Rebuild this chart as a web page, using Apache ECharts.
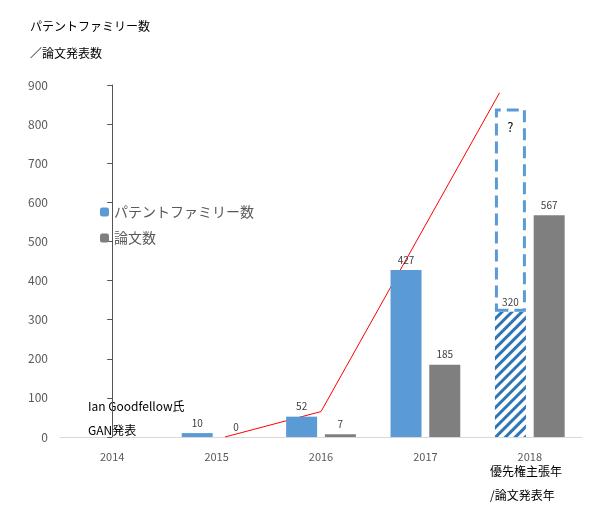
<!DOCTYPE html><html><head><meta charset="utf-8">
<script src="https://cdn.jsdelivr.net/npm/echarts@6/dist/echarts.min.js"></script>
<style>body{margin:0}#c{width:605px;height:529px}</style></head><body><div id="c"></div>
<script>
const categories=['2014','2015','2016','2017','2018'];
const patents=[null,10,52,427,320];
const papers=[null,0,7,185,567];
const patentUnknownTop=840;
const arrowPoints=[[1.08,0],[2.0,65],[3.71,880]];
const yTicks=[0,900,100];
const F='"Noto Sans CJK JP","Noto Sans",sans-serif';
const chart=echarts.init(document.getElementById('c'));
const blue='#5b9bd5',gray='#7f7f7f';
chart.setOption({
 animation:false,
 textStyle:{fontFamily:F},
 grid:{left:60,right:23,top:85,bottom:92},
 legend:{left:95,top:200,orient:'vertical',itemWidth:9,itemHeight:9,itemGap:12,
  textStyle:{fontSize:14,color:'#595959',fontFamily:F},data:['パテントファミリー数','論文数']},
 xAxis:[{type:'category',data:categories,axisTick:{show:false},axisLine:{lineStyle:{color:'#d9d9d9'}},
   axisLabel:{color:'#595959',fontSize:11,margin:14}},
  {type:'value',min:-0.5,max:4.5,show:false}],
 yAxis:{type:'value',min:yTicks[0],max:yTicks[1],interval:yTicks[2],splitLine:{show:false},
  axisLabel:{color:'#595959',fontSize:12,margin:12}},
 graphic:[
  {type:'text',left:30,top:20,style:{text:'パテントファミリー数',font:'12px '+F,fill:'#000'}},
  {type:'text',left:30,top:47,style:{text:'／論文発表数',font:'12px '+F,fill:'#000'}},
  {type:'text',left:490,top:465,style:{text:'優先権主張年',font:'12px '+F,fill:'#000'}},
  {type:'text',left:490,top:489,style:{text:'/論文発表年',font:'12px '+F,fill:'#000'}},
  {type:'text',left:88,top:400,style:{text:'Ian Goodfellow氏',font:'12px '+F,fill:'#000'}},
  {type:'text',left:88,top:424,style:{text:'GAN発表',font:'12px '+F,fill:'#000'}}
 ],
 series:[
  {name:'パテントファミリー数',type:'bar',stack:'p',barWidth:31,barGap:'25%',
   itemStyle:{color:blue},
   label:{show:true,position:'top',fontSize:10,color:'#404040'},
   data:patents.map((v,i)=>i===4?{value:v,itemStyle:{color:'#fff',decal:{symbol:'rect',dashArrayX:[1,0],dashArrayY:[3,4],rotation:-Math.PI/4,color:'#2e75b6'}}}:v)},
  {name:'unknown',type:'bar',stack:'p',barWidth:31,
   data:patents.map((v,i)=>i===4?{value:patentUnknownTop-v,itemStyle:{color:'rgba(0,0,0,0)',borderColor:blue,borderWidth:3,borderType:'dashed'}}:null),
   label:{show:true,position:'insideTop',distance:12,formatter:'?',fontSize:13,color:'#000'}},
  {name:'論文数',type:'bar',barWidth:31,itemStyle:{color:gray},
   label:{show:true,position:'top',fontSize:10,color:'#404040'},data:papers},
  {type:'lines',coordinateSystem:'cartesian2d',xAxisIndex:1,polyline:true,
   symbol:['none','arrow'],symbolSize:9,lineStyle:{color:'#ff0000',width:1,opacity:1},
   data:[{coords:arrowPoints}]}
 ]
});
</script></body></html>
